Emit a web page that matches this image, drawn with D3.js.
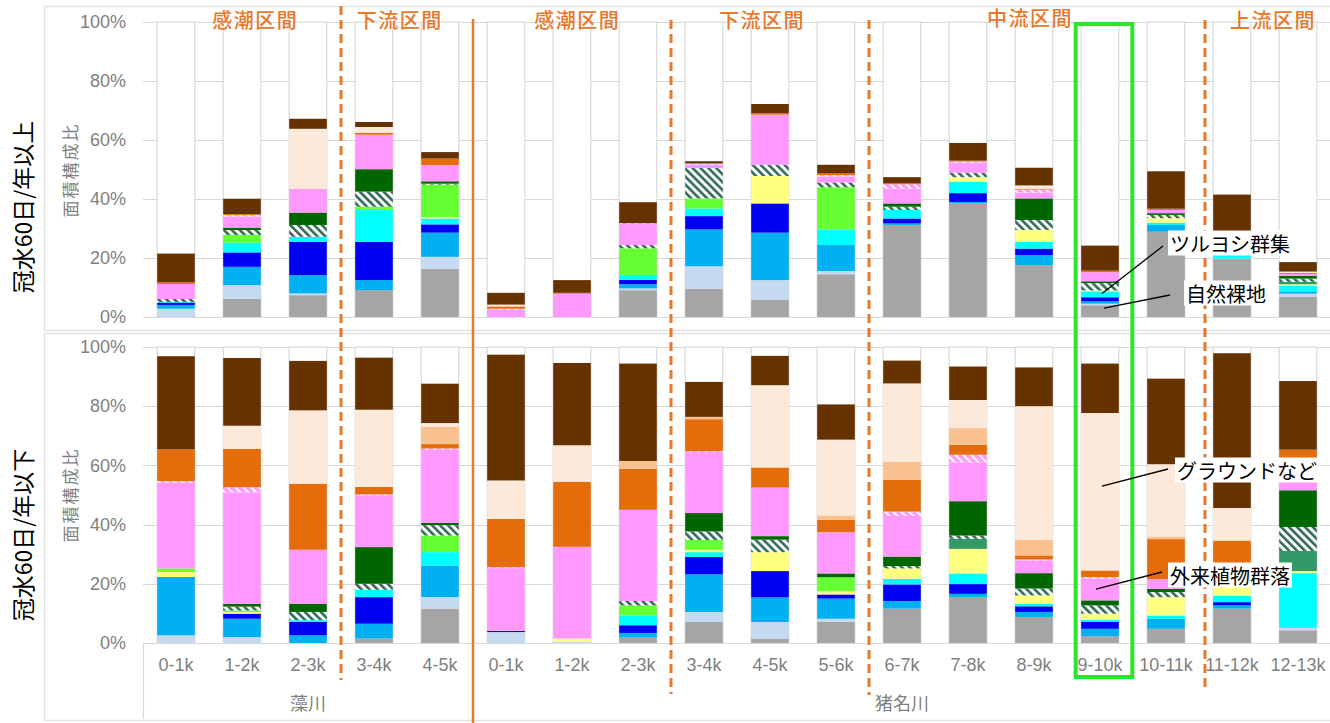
<!DOCTYPE html>
<html>
<head>
<meta charset="utf-8">
<script src="https://cdn.jsdelivr.net/npm/d3@7"></script>
<style>
  body { margin: 0; background: #ffffff; }
  svg { display: block; }
</style>
</head>
<body>
<svg id="chart" width="1330" height="723"></svg>
<script>
// ---- categories -------------------------------------------------------
const rivers = ['藻川', '猪名川'];
const mogawaSections = ['0-1k', '1-2k', '2-3k', '3-4k', '4-5k'];
const inagawaSections = ['0-1k', '1-2k', '2-3k', '3-4k', '4-5k', '5-6k', '6-7k',
  '7-8k', '8-9k', '9-10k', '10-11k', '11-12k', '12-13k'];
const panelTitles = ['冠水60日/年以上', '冠水60日/年以下'];
const yTickValues = [0, 20, 40, 60, 80, 100];
const zoneLabels = ['感潮区間', '下流区間', '感潮区間', '下流区間', '中流区間', '上流区間'];

// ---- area shares (%) : upper panel (flooded 60 days/year or more) -------
// order: 藻川 0-1k..4-5k, 猪名川 0-1k..12-13k
const upperBare        = [0, 6.2, 7.4, 9.1, 16.4, 0, 0, 9.1, 9.6, 5.9, 14.5, 31.2, 38.5, 17.6, 4.0, 28.9, 19.8, 6.8];
const upperPaleBlue    = [2.8, 4.6, 0.6, 0, 4.0, 0, 0, 0.6, 7.6, 6.6, 1.1, 0, 0, 0, 0.5, 0, 0, 1.1];
const upperSkyBlue     = [1.3, 6.2, 6.2, 3.4, 8.2, 0, 0, 1.4, 12.5, 16.1, 8.8, 0.5, 0.5, 3.4, 0.8, 2.3, 0, 0.8];
const upperBlue        = [0.8, 4.9, 11.3, 13.0, 2.8, 0, 0, 1.5, 4.5, 9.9, 0, 1.7, 3.0, 2.2, 1.4, 0, 0, 0];
const upperCyan        = [0.2, 3.3, 1.7, 10.8, 2.0, 0, 0, 1.7, 2.6, 0, 5.3, 2.9, 3.9, 2.3, 2.0, 0.8, 1.7, 2.0];
const upperYellow      = [0, 0, 0, 0, 0.5, 0, 0, 0, 0, 9.3, 0, 0, 1.5, 4.0, 0.3, 1.5, 0.3, 0.4];
const upperLightGreen  = [0, 2.6, 0, 1.1, 11.0, 0, 0, 9.0, 3.4, 0, 14.3, 0, 0, 0, 0, 0, 0.4, 0];
const upperSeaGreen    = [0, 0, 0, 0, 0, 0, 0, 0, 0, 0, 0, 0, 0, 0, 0, 0, 0, 0.8];
const upperReed        = [1.0, 1.7, 4.0, 5.1, 0.3, 0, 0, 1.1, 10.3, 3.8, 1.6, 1.1, 1.5, 3.4, 2.5, 1.1, 0, 1.1];
const upperDarkGreen   = [0, 0.8, 4.2, 7.6, 0.8, 0, 0, 0, 0, 0, 0, 1.1, 0, 7.3, 0.6, 0.6, 0, 1.0];
const upperAlien       = [5.1, 3.7, 8.0, 11.7, 5.5, 2.5, 7.9, 7.1, 1.1, 17.0, 2.0, 5.0, 3.4, 2.0, 3.1, 1.1, 0, 0.6];
const upperAlienHatch  = [0, 0.6, 0, 0, 0, 0.3, 0, 0.3, 0.3, 0, 0.5, 1.5, 0.4, 1.0, 0, 0, 0, 0];
const upperOrange      = [0.6, 0.3, 0, 0.6, 2.2, 0.8, 0.3, 0, 0.3, 0.5, 0.7, 0.4, 0.3, 0.3, 0.5, 0.4, 0.3, 0.3];
const upperLightOrange = [0, 0, 0, 0, 0, 0, 0, 0, 0, 0, 0, 0, 0, 0, 0, 0, 0, 0];
const upperGround      = [0, 0, 20.4, 2.0, 0, 0.6, 0, 0, 0, 0, 0, 0, 0, 1.1, 0, 0, 0, 0.5];
const upperBrown       = [9.7, 5.2, 3.4, 1.7, 2.2, 4.0, 4.3, 7.1, 0.6, 3.1, 2.8, 2.0, 6.0, 6.0, 8.5, 12.7, 19.0, 3.2];

// ---- area shares (%) : lower panel (flooded less than 60 days/year) ----
const lowerBare        = [0, 0, 0, 1.5, 11.6, 0, 0, 1.8, 7.1, 1.5, 7.1, 11.6, 15.5, 8.8, 2.3, 4.8, 11.6, 4.3];
const lowerPaleBlue    = [2.6, 2.0, 0, 0, 3.9, 3.7, 0.5, 0, 3.4, 5.6, 1.1, 0, 0, 0, 0, 0, 0, 0.8];
const lowerSkyBlue     = [19.7, 6.2, 2.6, 5.0, 10.7, 0, 0, 1.6, 12.7, 8.3, 6.8, 2.6, 1.1, 1.7, 2.5, 3.4, 1.1, 0];
const lowerBlue        = [0, 1.7, 4.5, 9.0, 0, 0.4, 0, 2.6, 5.9, 8.9, 1.4, 5.6, 3.3, 1.9, 2.3, 0, 1.1, 0];
const lowerCyan        = [0, 0, 0.6, 2.5, 4.5, 0, 0, 3.3, 1.6, 0, 0, 1.9, 3.6, 0.9, 0.8, 1.1, 2.2, 18.5];
const lowerYellow      = [1.7, 0.6, 0, 0, 0, 0, 1.0, 0, 0.8, 6.4, 1.1, 3.5, 8.3, 2.8, 2.0, 6.2, 3.9, 0.7];
const lowerLightGreen  = [1.2, 0.5, 0, 0, 5.6, 0, 0, 3.4, 3.3, 0, 4.7, 0, 0, 0, 0, 0, 0, 0];
const lowerSeaGreen    = [0, 0, 0, 0, 0, 0, 0, 0, 0, 0, 0, 0, 3.4, 0, 0, 0, 1.7, 6.8];
const lowerReed        = [0, 1.3, 2.8, 2.0, 3.5, 0, 0, 1.5, 2.9, 4.2, 0, 0.8, 1.1, 2.3, 2.8, 1.7, 0, 8.1];
const lowerDarkGreen   = [0, 0.9, 2.8, 12.4, 0.8, 0, 0, 0, 6.2, 1.2, 1.3, 3.2, 11.6, 5.2, 1.7, 1.1, 0, 12.4];
const lowerAlien       = [28.9, 37.7, 18.2, 17.5, 24.6, 21.2, 31.0, 30.8, 20.6, 16.4, 13.9, 13.7, 13.1, 4.3, 7.3, 3.3, 5.1, 6.7];
const lowerAlienHatch  = [0.6, 1.7, 0, 0.3, 0.5, 0.3, 0, 0, 0.3, 0, 0, 1.5, 2.6, 0.3, 0.6, 0, 0, 1.7];
const lowerOrange      = [10.7, 13.0, 22.3, 2.5, 1.5, 16.3, 22.0, 13.9, 10.8, 6.8, 4.2, 10.7, 3.4, 1.4, 2.2, 13.5, 7.9, 5.3];
const lowerLightOrange = [0, 0, 0, 0, 5.9, 0, 0, 2.6, 0.8, 0, 1.5, 6.1, 5.6, 5.3, 0, 0.9, 0, 0];
const lowerGround      = [0, 7.8, 24.8, 26.1, 1.2, 13.0, 12.3, 0, 0, 27.8, 25.6, 26.5, 9.5, 45.1, 53.2, 24.4, 11.0, 0];
const lowerBrown       = [31.5, 22.9, 16.7, 17.6, 13.3, 42.5, 27.8, 32.9, 11.8, 9.9, 11.9, 7.7, 11.3, 13.1, 16.7, 28.9, 52.3, 23.2];

// stacking order, bottom to top
const seriesKeys = ['bare', 'paleBlue', 'skyBlue', 'blue', 'cyan', 'yellow', 'lightGreen', 'seaGreen',
  'reed', 'darkGreen', 'alien', 'alienHatch', 'orange', 'lightOrange', 'ground', 'brown'];
const upperSeries = [upperBare, upperPaleBlue, upperSkyBlue, upperBlue, upperCyan, upperYellow, upperLightGreen,
  upperSeaGreen, upperReed, upperDarkGreen, upperAlien, upperAlienHatch, upperOrange, upperLightOrange,
  upperGround, upperBrown];
const lowerSeries = [lowerBare, lowerPaleBlue, lowerSkyBlue, lowerBlue, lowerCyan, lowerYellow, lowerLightGreen,
  lowerSeaGreen, lowerReed, lowerDarkGreen, lowerAlien, lowerAlienHatch, lowerOrange, lowerLightOrange,
  lowerGround, lowerBrown];

// ---- styling -------------------------------------------------------------
const fills = {
  bare: '#a5a5a5', paleBlue: '#c5d9f1', skyBlue: '#00b0f0', blue: '#0000f2', cyan: '#00ffff',
  yellow: '#ffff80', lightGreen: '#66ff33', seaGreen: '#339966', reed: 'url(#reedHatch)',
  darkGreen: '#006600', alien: '#ff99ff', alienHatch: 'url(#alienHatch)', orange: '#e46c0a',
  lightOrange: '#fac090', ground: '#fde9d9', brown: '#663300'
};
const ORANGE = '#e8782a';
const GRID = '#d9d9d9';
const TICK_TEXT = '#7f7f7f';
const CJK = '"Noto Sans CJK JP", "Noto Sans", sans-serif';
const LATIN = '"Liberation Sans", Arial, sans-serif';

const svg = d3.select('#chart');
svg.append('rect').attr('width', 1330).attr('height', 723).attr('fill', '#ffffff');

// hatch fills
const defs = svg.append('defs');
function stripePattern(id, bg, fg, stripe, size) {
  const p = defs.append('pattern')
    .attr('id', id)
    .attr('patternUnits', 'userSpaceOnUse')
    .attr('width', size).attr('height', size)
    .attr('patternTransform', 'rotate(-45)');
  p.append('rect').attr('width', size).attr('height', size).attr('fill', bg);
  p.append('rect').attr('width', stripe).attr('height', size).attr('fill', fg);
}
stripePattern('reedHatch', '#ffffff', '#2f6b55', 2.6, 5.6);
stripePattern('alienHatch', '#ff99ff', '#ffffff', 2.0, 5.6);

// ---- categories & scales -----------------------------------------------
const categories = [
  ...mogawaSections.map(s => ({ river: rivers[0], section: s })),
  ...inagawaSections.map(s => ({ river: rivers[1], section: s }))
].map((c, i) => ({ ...c, id: c.river + '|' + c.section, index: i }));
const ids = categories.map(c => c.id);

const x = d3.scaleBand().domain(ids).range([143, 1331]).paddingInner(0.43).paddingOuter(0.215);
const bw = x.bandwidth();
const gapX = (i, shift = 0) => x(ids[i]) + bw + (x.step() - bw) / 2 + shift * x.step();

const panels = [
  { series: upperSeries, y: d3.scaleLinear().domain([0, 100]).range([317, 22]),
    frame: [6, 330], title: panelTitles[0], titleY: 207, unitY: 170 },
  { series: lowerSeries, y: d3.scaleLinear().domain([0, 100]).range([643, 347]),
    frame: [333, 720], title: panelTitles[1], titleY: 535, unitY: 495 }
];

// panel frames
panels.forEach(p => {
  svg.append('rect')
    .attr('x', 44.5).attr('y', p.frame[0] + 0.5)
    .attr('width', 1300).attr('height', p.frame[1] - p.frame[0])
    .attr('fill', 'none').attr('stroke', '#e3e3e3').attr('stroke-width', 1.5);
});

panels.forEach(p => {
  const y = p.y;
  const g = svg.append('g');

  // horizontal gridlines
  g.append('g').selectAll('line').data(yTickValues).join('line')
    .attr('x1', 143).attr('x2', 1331)
    .attr('y1', d => Math.round(y(d)) + 0.5).attr('y2', d => Math.round(y(d)) + 0.5)
    .attr('stroke', GRID).attr('stroke-width', 1.2);

  // y axis labels
  const yAxis = g.append('g').attr('transform', 'translate(143,0)')
    .call(d3.axisLeft(y).tickValues(yTickValues).tickFormat(d => d + '%').tickSize(0).tickPadding(17));
  yAxis.select('.domain').remove();
  yAxis.selectAll('text').attr('fill', TICK_TEXT).style('font-family', LATIN).style('font-size', '18px');

  // full-height bar outline (the unfilled share stays white)
  g.append('g').selectAll('rect').data(ids).join('rect')
    .attr('x', d => x(d)).attr('width', bw)
    .attr('y', y(100)).attr('height', y(0) - y(100))
    .attr('fill', '#ffffff').attr('stroke', GRID).attr('stroke-width', 1.2);

  // stacked shares
  const rows = categories.map(c => {
    const r = { id: c.id };
    seriesKeys.forEach((k, j) => { r[k] = p.series[j][c.index]; });
    return r;
  });
  const stacked = d3.stack().keys(seriesKeys)(rows);
  g.append('g').selectAll('g').data(stacked).join('g')
    .attr('fill', d => fills[d.key])
    .selectAll('rect').data(d => d.filter(s => s[1] - s[0] > 0)).join('rect')
    .attr('x', d => x(d.data.id)).attr('width', bw)
    .attr('y', d => y(d[1])).attr('height', d => y(d[0]) - y(d[1]));

  // panel title (rotated)
  svg.append('text')
    .attr('transform', `translate(22,${p.titleY}) rotate(-90)`)
    .attr('text-anchor', 'middle').attr('dominant-baseline', 'central')
    .style('font-family', CJK).style('font-size', '23px').attr('fill', '#000')
    .text(p.title);
  // unit label
  svg.append('text')
    .attr('transform', `translate(69,${p.unitY}) rotate(-90)`)
    .attr('text-anchor', 'middle').attr('dominant-baseline', 'central')
    .style('font-family', CJK).style('font-size', '17px').style('letter-spacing', '2px')
    .attr('fill', TICK_TEXT)
    .text('面積構成比');
});

// ---- category axis under the lower panel -------------------------------
const xAxis = svg.append('g').attr('transform', 'translate(0,643)')
  .call(d3.axisBottom(x).tickFormat(id => id.split('|')[1]).tickSizeInner(0).tickSizeOuter(0).tickPadding(15));
xAxis.select('.domain').attr('stroke', GRID).attr('stroke-width', 1.2);
xAxis.selectAll('text').attr('fill', TICK_TEXT).style('font-family', LATIN).style('font-size', '18px');

svg.append('line').attr('x1', 143.5).attr('x2', 143.5).attr('y1', 643).attr('y2', 719)
  .attr('stroke', GRID).attr('stroke-width', 1.2);

// river names
const riverSpans = [[0, mogawaSections.length - 1], [mogawaSections.length, ids.length - 1]];
svg.append('g').selectAll('text').data(rivers).join('text')
  .attr('x', (d, i) => (x(ids[riverSpans[i][0]]) + x(ids[riverSpans[i][1]]) + bw) / 2)
  .attr('y', 702)
  .attr('text-anchor', 'middle').attr('dominant-baseline', 'central')
  .style('font-family', CJK).style('font-size', '18px').attr('fill', TICK_TEXT)
  .text(d => d);

// ---- river / zone separators ------------------------------------------
const separators = [
  { x: gapX(2), y1: 6, y2: 680, dashed: true },
  { x: gapX(4), y1: 19, y2: 723, dashed: false },
  { x: gapX(7), y1: 20, y2: 694, dashed: true },
  { x: gapX(10), y1: 20, y2: 695, dashed: true },
  { x: gapX(15, 0.09), y1: 20, y2: 692, dashed: true }
];
svg.append('g').selectAll('line').data(separators).join('line')
  .attr('x1', d => d.x).attr('x2', d => d.x)
  .attr('y1', d => d.y1).attr('y2', d => d.y2)
  .attr('stroke', ORANGE).attr('stroke-width', d => d.dashed ? 3 : 2.5)
  .attr('stroke-dasharray', d => d.dashed ? '9,5' : null);

// zone headings
const zoneCenters = [1.2, 3.39, 6.08, 8.88, 12.94, 16.62];
const zoneY = [19, 19, 19, 19, 17, 19];
svg.append('g').selectAll('text').data(zoneLabels).join('text')
  .attr('x', (d, i) => x(ids[0]) + bw / 2 + zoneCenters[i] * x.step())
  .attr('y', (d, i) => zoneY[i])
  .attr('text-anchor', 'middle').attr('dominant-baseline', 'central')
  .style('font-family', CJK).style('font-size', '20px').style('font-weight', '500')
  .style('letter-spacing', '1.5px')
  .attr('fill', ORANGE)
  .text(d => d);

// ---- highlight box around 猪名川 9-10k ---------------------------------
const hiId = rivers[1] + '|9-10k';
svg.append('rect')
  .attr('x', x(hiId) - 5.5).attr('width', bw + 19)
  .attr('y', 24).attr('height', 653)
  .attr('fill', 'none').attr('stroke', '#2ae62a').attr('stroke-width', 4);

// ---- callouts ------------------------------------------------------------
const callouts = [
  { text: 'ツルヨシ群集', panel: 0, value: 8, tx: 1170, ty: 243, lx: 1163, ly: 246, dx: 2 },
  { text: '自然裸地', panel: 0, value: 3, tx: 1186, ty: 293, lx: 1170, ly: 295, dx: 4 },
  { text: 'グラウンドなど', panel: 1, value: 53, tx: 1177, ty: 470, lx: 1168, ly: 469, dx: 2 },
  { text: '外来植物群落', panel: 1, value: 18.2, tx: 1170, ty: 575, lx: 1162, ly: 572, dx: -4 }
];
const cg = svg.append('g');
callouts.forEach(c => {
  const t = cg.append('text')
    .attr('x', c.tx).attr('y', c.ty)
    .attr('dominant-baseline', 'central')
    .style('font-family', CJK).style('font-size', '20px').attr('fill', '#000')
    .text(c.text);
  const bb = t.node().getBBox();
  cg.insert('rect', () => t.node())
    .attr('x', bb.x - 2).attr('y', bb.y + 2).attr('width', bb.width + 4).attr('height', bb.height - 4)
    .attr('fill', '#ffffff');
  cg.append('line')
    .attr('x1', c.lx).attr('y1', c.ly)
    .attr('x2', x(hiId) + bw / 2 + c.dx).attr('y2', panels[c.panel].y(c.value))
    .attr('stroke', '#000').attr('stroke-width', 1.3);
});
</script>
</body>
</html>
